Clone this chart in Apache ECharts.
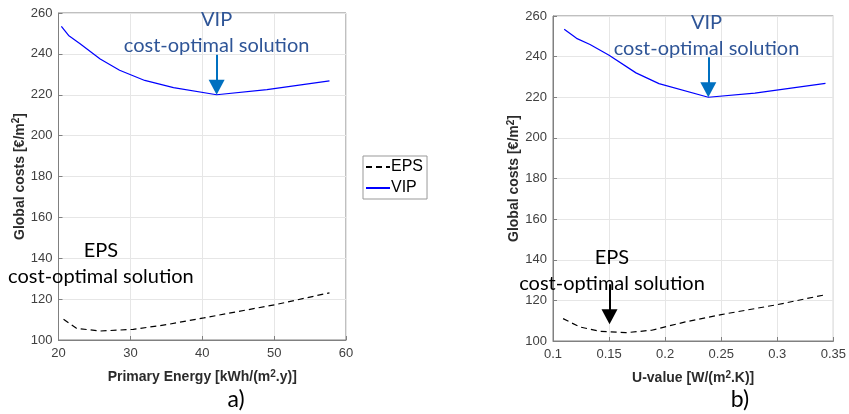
<!DOCTYPE html>
<html>
<head>
<meta charset="utf-8">
<script src="https://cdn.jsdelivr.net/npm/echarts@6.0.0/dist/echarts.min.js"></script>
<style>
  html, body { margin: 0; padding: 0; background: #fff; }
  #chart { width: 849px; height: 414px; }
</style>
</head>
<body>
<div id="chart"></div>
<script>
// a) Global cost vs primary energy
const peEPS   = [20.7, 22.5, 25.8, 30.4, 35.0, 40.2, 50.3, 57.7];
const costEPSa = [110.1, 105.7, 104.4, 105.2, 107.5, 110.8, 117.4, 123.1];
const peVIP   = [20.4, 21.4, 23.0, 25.8, 28.5, 32.0, 36.0, 42.0, 49.0, 57.7];
const costVIPa = [253.5, 249.0, 245.0, 237.5, 232.0, 227.0, 223.5, 220.0, 222.5, 226.8];

// b) Global cost vs U-value
const uEPS    = [0.109, 0.124, 0.1415, 0.165, 0.188, 0.218, 0.250, 0.300, 0.343];
const costEPSb = [111.0, 106.9, 104.8, 104.1, 105.3, 109.4, 113.0, 117.9, 122.8];
const uVIP    = [0.110, 0.121, 0.133, 0.150, 0.174, 0.1945, 0.2385, 0.280, 0.343];
const costVIPb = [253.5, 249.0, 246.0, 240.7, 232.0, 226.7, 220.0, 222.0, 226.8];

// axis ranges
const yRange  = { min: 100, max: 260, step: 20 };
const peRange = { min: 20, max: 60, step: 10 };
const uRange  = { min: 0.1, max: 0.35, step: 0.05 };

// annotation anchors (data coordinates)
const noteVIPa = [42.0, 250.4];
const noteEPSa = [25.9, 137.5];
const noteVIPb = [0.2369, 250.2];
const noteEPSb = [0.1526, 134.8];
// arrows: [x, y start, y tip]
const arrowVIPa = [42.0, 239.6, 220.0];
const arrowVIPb = [0.2385, 239.7, 220.0];
const arrowEPSb = [0.1504, 128.0, 108.2];

const zip = (xs, ys) => xs.map((x, i) => [x, ys[i]]);

const TEXT_FONT = 'Lato';
const AXIS_FONT = '"Liberation Sans", Arial, sans-serif';
const VIP_TEXT = '#2F5597';
const VIP_ARROW = '#0070C0';
const FRAME = '#808080';

function note(coord, color, text) {
  return {
    coord: coord,
    symbol: 'circle',
    symbolSize: 1,
    itemStyle: { color: 'rgba(0,0,0,0)' },
    label: {
      show: true,
      position: 'inside',
      formatter: text,
      color: color,
      fontFamily: TEXT_FONT,
      fontSize: 20,
      lineHeight: 26,
      align: 'center',
      verticalAlign: 'middle'
    }
  };
}

function arrowHead(arrow, color) {
  return {
    coord: [arrow[0], arrow[2]],
    symbol: 'triangle',
    symbolSize: [16, 15],
    symbolRotate: 180,
    symbolOffset: [0, '-50%'],
    itemStyle: { color: color },
    label: { show: false }
  };
}

function shaft(arrow, color) {
  return {
    silent: true,
    symbol: ['none', 'none'],
    label: { show: false },
    lineStyle: { color: color, width: 2, type: 'solid' },
    emphasis: { disabled: true },
    data: [[{ coord: [arrow[0], arrow[1]] }, { coord: [arrow[0], arrow[2] + 2] }]]
  };
}

// bold axis title with a raised "2"
const nameStyle = {
  fontFamily: AXIS_FONT, fontWeight: 'bold', fontSize: 14, color: '#2b2b2b',
  rich: {
    sup: { fontFamily: AXIS_FONT, fontWeight: 'bold', fontSize: 10, color: '#2b2b2b', verticalAlign: 'top', padding: [0, 0, 7, 0] }
  }
};

function xAxis(gridIndex, range, name) {
  return {
    type: 'value', gridIndex: gridIndex,
    min: range.min, max: range.max, interval: range.step,
    name: name, nameLocation: 'middle', nameGap: 29,
    nameTextStyle: nameStyle,
    axisLine: { show: true, lineStyle: { color: FRAME } },
    axisTick: { show: true, inside: true, length: 4, lineStyle: { color: FRAME } },
    axisLabel: { fontFamily: AXIS_FONT, fontSize: 13, color: '#404040', margin: 7 },
    splitLine: { show: true, lineStyle: { color: '#e6e6e6' } }
  };
}

function yAxis(gridIndex) {
  return {
    type: 'value', gridIndex: gridIndex,
    min: yRange.min, max: yRange.max, interval: yRange.step,
    name: 'Global costs [€/m{sup|2}]', nameLocation: 'middle', nameGap: 30,
    nameTextStyle: nameStyle,
    axisLine: { show: true, lineStyle: { color: FRAME } },
    axisTick: { show: true, inside: true, length: 4, lineStyle: { color: FRAME } },
    axisLabel: { fontFamily: AXIS_FONT, fontSize: 13, color: '#404040', margin: 6 },
    splitLine: { show: true, lineStyle: { color: '#e6e6e6' } }
  };
}

const epsLine = { color: '#000000', width: 1.2, type: [6, 4] };
const vipLine = { color: '#0000ff', width: 1.2, type: 'solid' };

const option = {
  animation: false,
  backgroundColor: '#ffffff',
  grid: [
    { left: 58.5, right: 503, top: 13, bottom: 74, show: true, borderColor: FRAME, borderWidth: 1, containLabel: false },
    { left: 553, right: 13, top: 16, bottom: 73, show: true, borderColor: FRAME, borderWidth: 1, containLabel: false }
  ],
  xAxis: [
    xAxis(0, peRange, 'Primary Energy [kWh/(m{sup|2}.y)]'),
    xAxis(1, uRange, 'U-value [W/(m{sup|2}.K)]')
  ],
  yAxis: [yAxis(0), yAxis(1)],
  legend: {
    left: 363, top: 156,
    orient: 'vertical',
    data: ['EPS', 'VIP'],
    itemWidth: 24, itemHeight: 10, itemGap: 5,
    padding: [3, 4, 3, 2],
    borderColor: '#999', borderWidth: 1, borderRadius: 0,
    backgroundColor: '#fff',
    itemStyle: { opacity: 0 },
    textStyle: { fontFamily: AXIS_FONT, fontSize: 16, color: '#000', padding: [0, 0, 0, -4] }
  },
  graphic: [
    { type: 'text', x: 236, y: 400, style: { text: 'a)', font: '23px ' + TEXT_FONT, fill: '#000', align: 'center', verticalAlign: 'middle' } },
    { type: 'text', x: 740, y: 400, style: { text: 'b)', font: '23px ' + TEXT_FONT, fill: '#000', align: 'center', verticalAlign: 'middle' } }
  ],
  series: [
    {
      name: 'EPS', type: 'line', xAxisIndex: 0, yAxisIndex: 0,
      data: zip(peEPS, costEPSa), symbol: 'none', lineStyle: epsLine, itemStyle: { color: '#000' },
      markPoint: { silent: true, data: [ note(noteEPSa, '#000', 'EPS\ncost-optimal solution') ] }
    },
    {
      name: 'VIP', type: 'line', xAxisIndex: 0, yAxisIndex: 0,
      data: zip(peVIP, costVIPa), symbol: 'none', lineStyle: vipLine, itemStyle: { color: '#0000ff' },
      markLine: shaft(arrowVIPa, VIP_ARROW),
      markPoint: { silent: true, data: [
        note(noteVIPa, VIP_TEXT, 'VIP\ncost-optimal solution'),
        arrowHead(arrowVIPa, VIP_ARROW)
      ] }
    },
    {
      name: 'EPS', type: 'line', xAxisIndex: 1, yAxisIndex: 1,
      data: zip(uEPS, costEPSb), symbol: 'none', lineStyle: epsLine, itemStyle: { color: '#000' },
      markLine: shaft(arrowEPSb, '#000'),
      markPoint: { silent: true, data: [
        note(noteEPSb, '#000', 'EPS\ncost-optimal solution'),
        arrowHead(arrowEPSb, '#000')
      ] }
    },
    {
      name: 'VIP', type: 'line', xAxisIndex: 1, yAxisIndex: 1,
      data: zip(uVIP, costVIPb), symbol: 'none', lineStyle: vipLine, itemStyle: { color: '#0000ff' },
      markLine: shaft(arrowVIPb, VIP_ARROW),
      markPoint: { silent: true, data: [
        note(noteVIPb, VIP_TEXT, 'VIP\ncost-optimal solution'),
        arrowHead(arrowVIPb, VIP_ARROW)
      ] }
    }
  ]
};

const chart = echarts.init(document.getElementById('chart'), null, { renderer: 'canvas' });
chart.setOption(option);
</script>
</body>
</html>
